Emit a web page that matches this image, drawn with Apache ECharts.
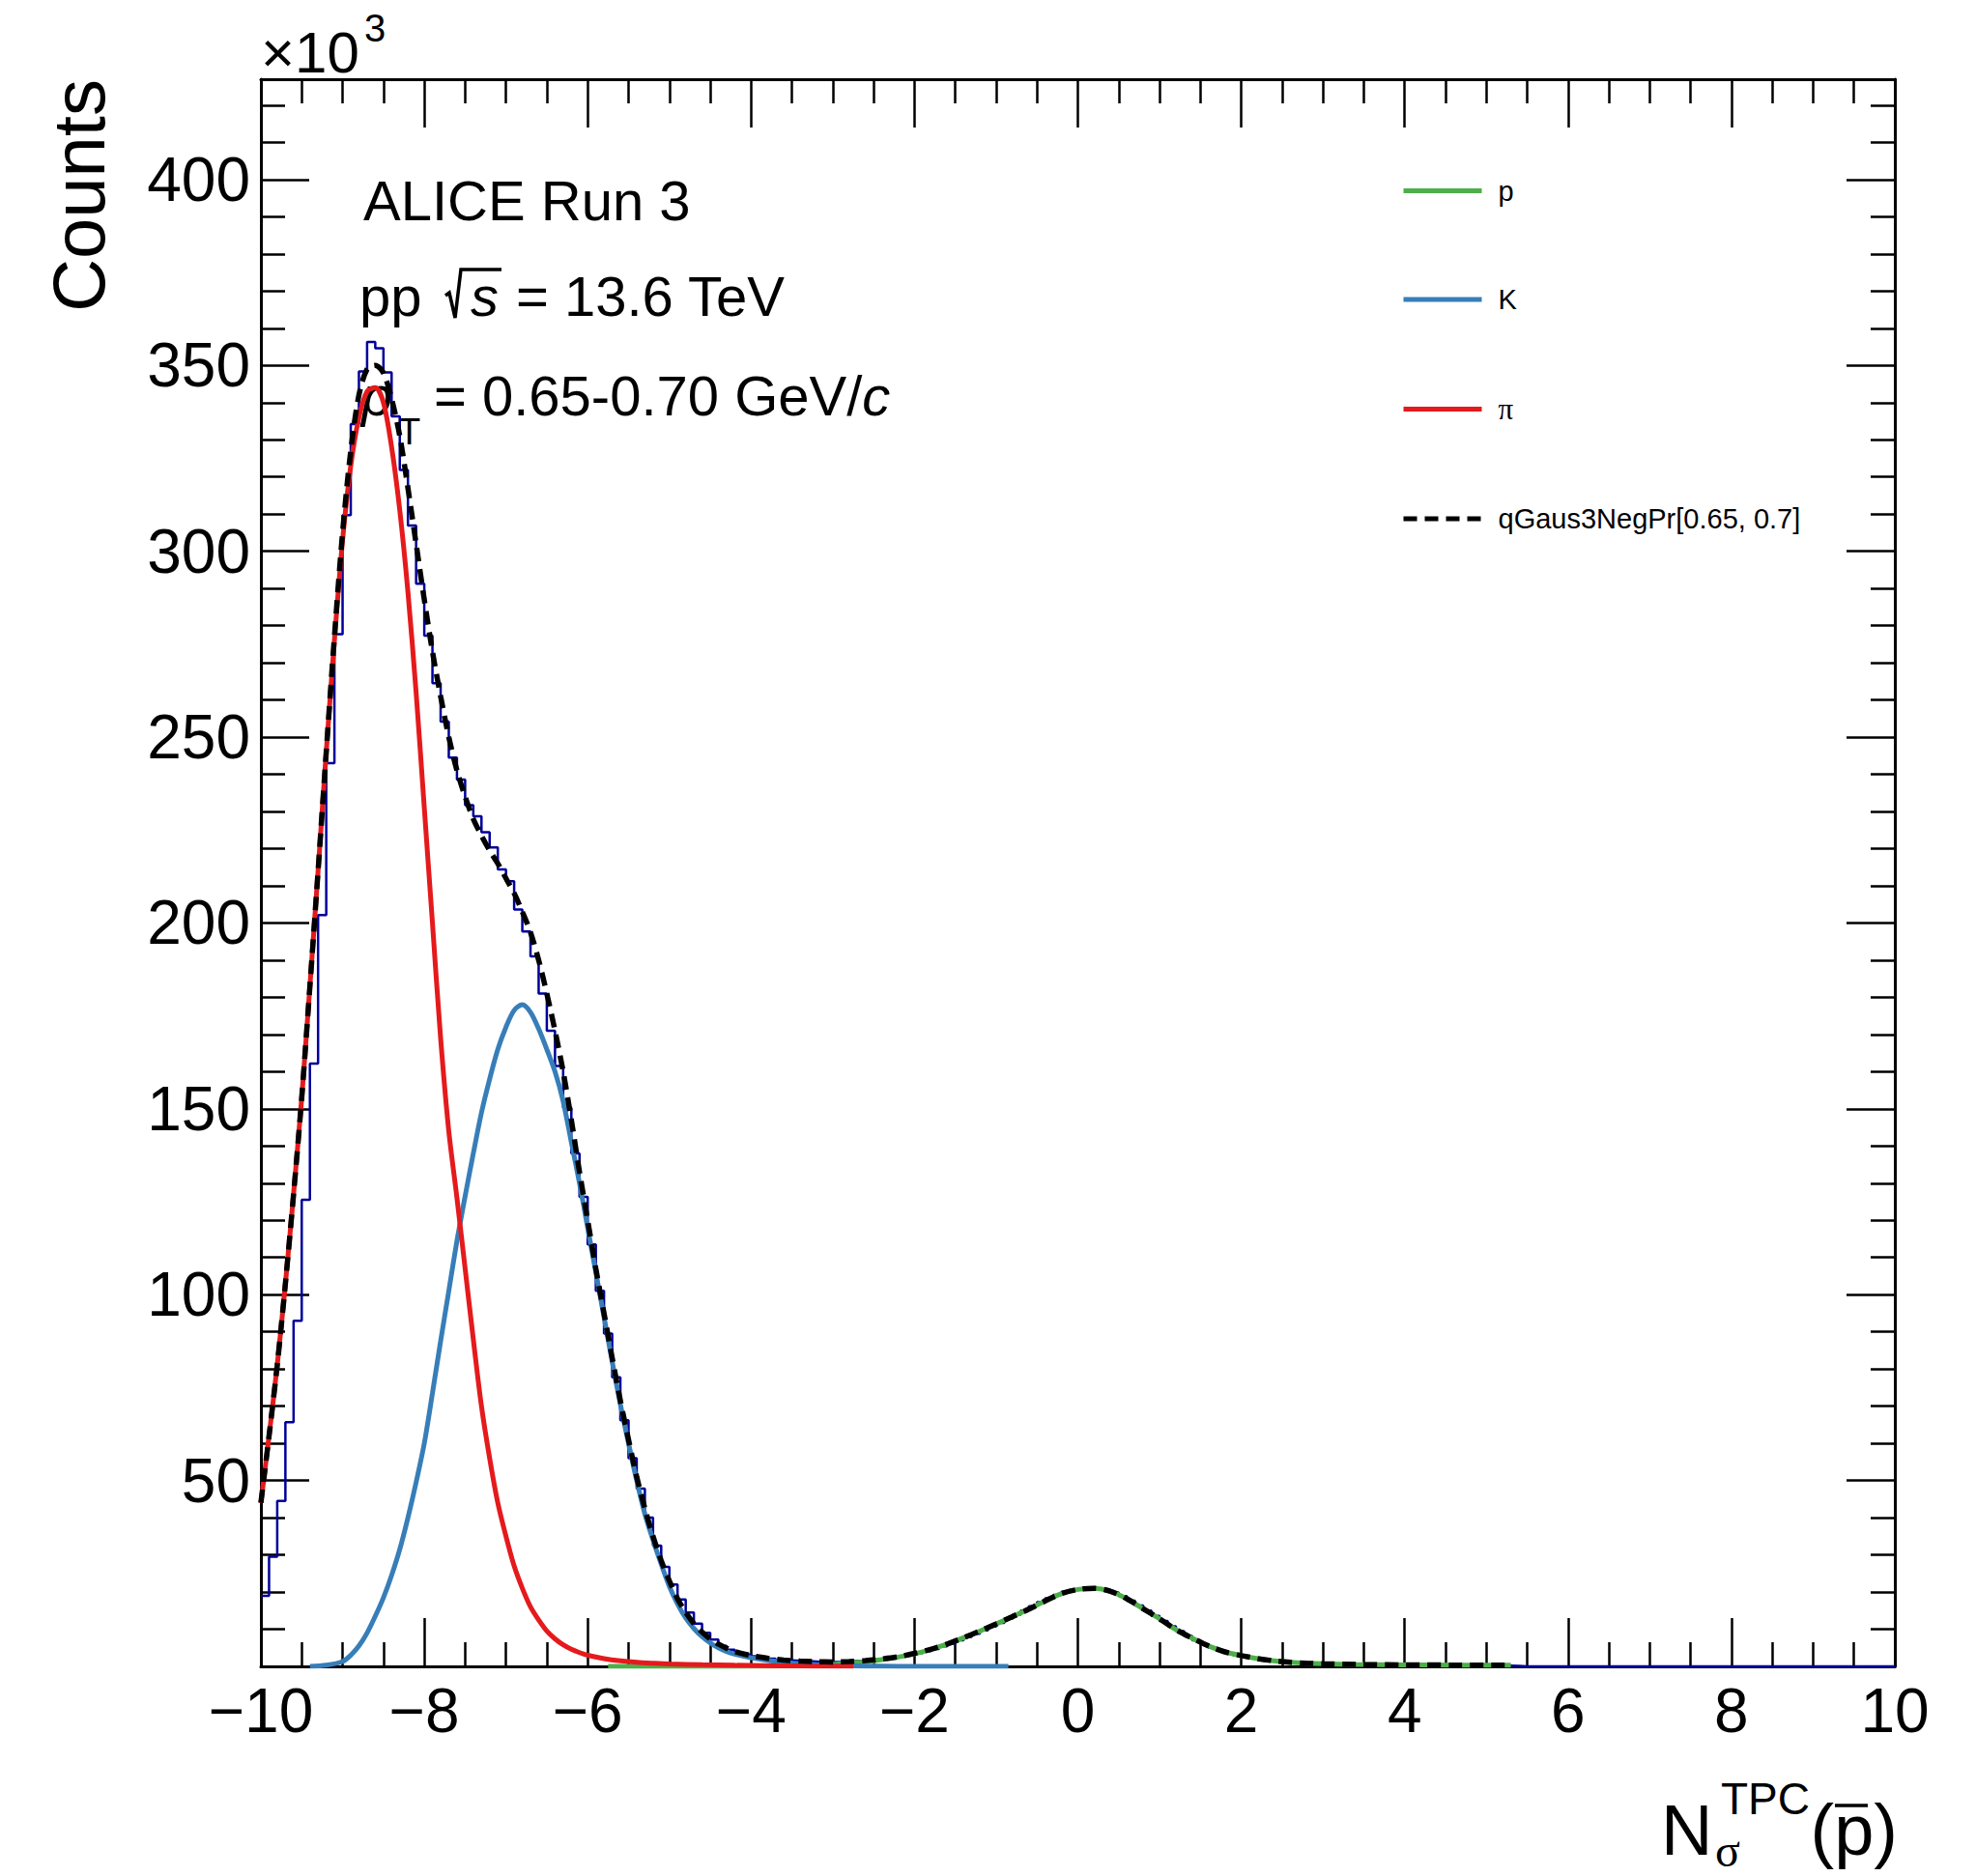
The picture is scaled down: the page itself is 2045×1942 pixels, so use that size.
<!DOCTYPE html>
<html>
<head>
<meta charset="utf-8">
<script src="https://cdn.jsdelivr.net/npm/echarts@6/dist/echarts.min.js"></script>
<style>
html,body{margin:0;padding:0;background:#ffffff;}
#chart{width:2045px;height:1942px;}
</style>
</head>
<body>
<div id="chart"></div>
<script>
// ---------------- DATA (counts in units of 10^3) ----------------
// histogram: 200 bins of width 0.1 from -10 to 10
const histRange = [-10, 10];
const histCounts = [
  19, 29.5, 44.5, 65.7, 93, 125.5, 162.2, 202.1, 243, 277.7,
  309.7, 334.2, 348.4, 356.3, 354.6, 348.1, 336.3, 321.9, 306.9, 291.3,
  277.3, 264.5, 254.2, 244.5, 238.6, 231.7, 228.7, 224.4, 220.3, 214.4,
  211.2, 203.6, 197.7, 191, 181, 171, 161.5, 150.3, 138, 126.3,
  113.5, 101, 89.5, 77.8, 66.2, 56, 47.8, 40, 32.5, 26.8,
  22, 18, 14.5, 11.5, 9, 7.2, 5.5, 4.5, 3.8, 3.2,
  2.7, 2.4, 2.1, 1.8, 1.6, 1.5, 1.4, 1.3, 1.2, 1.2,
  1.2, 1.3, 1.4, 1.5, 1.7, 1.9, 2.1, 2.4, 2.7, 3.1,
  3.6, 4.1, 4.7, 5.4, 6.1, 7.0, 7.9, 8.8, 9.7, 10.7,
  11.7, 12.8, 13.9, 15.0, 16.2, 17.3, 18.3, 19.2, 20.0, 20.6,
  21.0, 21.2, 21.0, 20.6, 19.9, 18.9, 17.7, 16.4, 15.0, 13.6,
  12.2, 10.8, 9.5, 8.2, 7.0, 5.9, 5.0, 4.2, 3.6, 3.0,
  2.6, 2.2, 1.9, 1.6, 1.4, 1.2, 1.05, 0.95, 0.85, 0.75,
  0.7, 0.65, 0.6, 0.55, 0.5, 0.5, 0.45, 0.45, 0.4, 0.4,
  0.4, 0.35, 0.35, 0.35, 0.3, 0.3, 0.3, 0.3, 0.25, 0.25,
  0.25, 0.2, 0.2, 0.1, 0, 0, 0, 0, 0, 0,
  0, 0, 0, 0, 0, 0, 0, 0, 0, 0,
  0, 0, 0, 0, 0, 0, 0, 0, 0, 0,
  0, 0, 0, 0, 0, 0, 0, 0, 0, 0,
  0, 0, 0, 0, 0, 0, 0, 0, 0, 0
];

// pion component (red)
const pionCurve = [
  [-10.0,44],[-9.9,62],[-9.8,81],[-9.7,103],[-9.6,127],[-9.5,153],[-9.4,183],[-9.3,214],[-9.2,246],[-9.1,276],
  [-9.0,303],[-8.9,323],[-8.8,336],[-8.7,343],[-8.6,344],[-8.5,340],[-8.4,328],[-8.3,311],[-8.2,289],[-8.1,262],
  [-8.0,231],[-7.9,200],[-7.8,169],[-7.7,144],[-7.6,126],[-7.5,107],[-7.4,88],[-7.3,70],[-7.2,56],[-7.1,44],
  [-7.0,35],[-6.9,27],[-6.8,21],[-6.7,16],[-6.6,12.5],[-6.5,9.5],[-6.4,7.4],[-6.3,5.8],[-6.2,4.6],[-6.1,3.7],
  [-6.0,3.0],[-5.8,2.1],[-5.6,1.5],[-5.4,1.1],[-5.2,0.85],[-5.0,0.65],[-4.6,0.45],[-4.2,0.3],[-3.8,0.2],[-3.4,0.12],
  [-3.0,0.07],[-2.75,0.05]
];

// kaon component (blue)
const kaonCurve = [
  [-9.4,0],[-9.2,0.3],[-9.0,1.3],[-8.9,3],[-8.8,5.5],[-8.7,9],[-8.6,13.5],[-8.5,18.5],[-8.4,24.5],[-8.3,31.5],
  [-8.2,40],[-8.1,49.5],[-8.0,60],[-7.9,73.5],[-7.8,87.5],[-7.7,101],[-7.6,114.5],[-7.5,126.5],[-7.4,138],[-7.3,149],
  [-7.2,158],[-7.1,166],[-7.0,172],[-6.9,176.5],[-6.8,178],[-6.7,176],[-6.6,171.5],[-6.5,166],[-6.4,160],[-6.3,152],
  [-6.2,141],[-6.1,130],[-6.0,118],[-5.9,106],[-5.8,94],[-5.7,82],[-5.6,70.5],[-5.5,60],[-5.4,50],[-5.3,41],
  [-5.2,34],[-5.1,27.5],[-5.0,21.5],[-4.9,16.8],[-4.8,13],[-4.7,10.2],[-4.6,8],[-4.5,6.3],[-4.4,5],[-4.3,4],
  [-4.2,3.3],[-4.0,2.3],[-3.8,1.6],[-3.6,1.1],[-3.4,0.7],[-3.2,0.45],[-3.0,0.28],[-2.8,0.15],[-2.6,0.08],[-2.2,0.03],
  [-1.6,0.01],[-0.85,0]
];

// proton component (green)
const protonCurve = [
  [-5.75,0],[-5.0,0],[-4.4,0.02],[-4.0,0.05],[-3.6,0.15],[-3.2,0.35],[-3.0,0.55],[-2.8,0.85],[-2.6,1.25],[-2.4,1.8],
  [-2.2,2.5],[-2.0,3.4],[-1.8,4.6],[-1.6,6.0],[-1.4,7.7],[-1.2,9.5],[-1.0,11.4],[-0.8,13.4],[-0.6,15.4],[-0.4,17.6],
  [-0.2,19.6],[0.0,20.7],[0.2,21.0],[0.4,20.2],[0.6,18.2],[0.8,15.5],[1.0,12.8],[1.2,9.9],[1.4,7.6],[1.6,5.5],
  [1.8,3.9],[2.0,2.9],[2.2,2.1],[2.4,1.5],[2.6,1.1],[2.8,0.85],[3.0,0.7],[3.4,0.5],[4.0,0.4],[4.6,0.35],[5.3,0.3]
];

// total fit (black dashed)
const totalCurve = [
  [-10.0,44],[-9.9,62],[-9.8,81],[-9.7,103],[-9.6,127],[-9.5,153],[-9.4,183],[-9.3,214],[-9.2,246],[-9.1,277],
  [-9.0,305],[-8.9,327],[-8.8,342],[-8.7,349],[-8.6,350],[-8.5,348],[-8.4,341],[-8.3,331],[-8.2,317],[-8.1,302],
  [-8.0,287],[-7.9,273],[-7.8,261],[-7.7,250],[-7.6,241],[-7.5,234],[-7.4,228],[-7.3,223.5],[-7.2,219.5],[-7.1,216],
  [-7.0,212],[-6.9,208],[-6.8,203],[-6.7,197.5],[-6.6,190],[-6.5,181],[-6.4,171],[-6.3,160],[-6.2,147],[-6.1,133],
  [-6.0,120],[-5.9,107],[-5.8,95],[-5.7,83],[-5.6,71.5],[-5.5,61],[-5.4,51],[-5.3,42.5],[-5.2,35],[-5.1,28.5],
  [-5.0,23],[-4.9,18.2],[-4.8,14.5],[-4.7,11.5],[-4.6,9.2],[-4.5,7.4],[-4.4,6.0],[-4.3,4.9],[-4.2,4.0],[-4.0,2.9],
  [-3.8,2.2],[-3.6,1.7],[-3.4,1.4],[-3.2,1.25],[-3.0,1.2],[-2.8,1.3],[-2.6,1.55],[-2.4,2.0],[-2.2,2.6],[-2.0,3.5],
  [-1.8,4.6],[-1.6,6.0],[-1.4,7.7],[-1.2,9.5],[-1.0,11.4],[-0.8,13.4],[-0.6,15.4],[-0.4,17.6],[-0.2,19.6],[0.0,20.7],
  [0.2,21.0],[0.4,20.2],[0.6,18.2],[0.8,15.5],[1.0,12.8],[1.2,9.9],[1.4,7.6],[1.6,5.5],[1.8,3.9],[2.0,2.9],
  [2.2,2.1],[2.4,1.5],[2.6,1.1],[2.8,0.85],[3.0,0.7],[3.4,0.5],[4.0,0.4],[4.6,0.35],[5.3,0.3]
];

// axis ticks / labels
const xRange = [-10, 10];
const yRange = [0, 427];
const yLabelValues = [50, 100, 150, 200, 250, 300, 350, 400];
const yMajorTicks = [0, 50, 100, 150, 200, 250, 300, 350, 400];
const yMinorTicks = [10,20,30,40,60,70,80,90,110,120,130,140,160,170,180,190,210,220,230,240,
                     260,270,280,290,310,320,330,340,360,370,380,390,410,420];
const legendNames = ['p', 'K', '\u03c0', 'qGaus3NegPr[0.65, 0.7]'];

// ---------------- CHART ----------------
const FONT = '"Liberation Sans", Arial, Helvetica, sans-serif';
const SERIF = '"Liberation Serif", "DejaVu Serif", serif';
const binWidth = (histRange[1] - histRange[0]) / histCounts.length;
const histData = histCounts.map((v, i) => [histRange[0] + i * binWidth, v]);
histData.push([histRange[1], histCounts[histCounts.length - 1]]);

const tickLine = { color: '#000', width: 2.5 };
function xAxisDef(pos, showLabel) {
  return {
    type: 'value', position: pos, min: xRange[0], max: xRange[1], interval: 2,
    axisLine: { show: true, onZero: false, lineStyle: { color: '#000', width: 3 } },
    axisTick: { show: true, inside: true, length: 50, lineStyle: tickLine },
    minorTick: { show: true, splitNumber: 4, length: 25, lineStyle: tickLine },
    splitLine: { show: false }, minorSplitLine: { show: false },
    axisLabel: {
      show: showLabel, fontSize: 64, color: '#000', fontFamily: FONT, margin: 14,
      formatter: v => (v < 0 ? '\u2212' + Math.abs(v) : String(v))
    }
  };
}
function yAxisDef(pos, major, showLabel) {
  return {
    type: 'value', position: pos, min: yRange[0], max: yRange[1],
    axisLine: { show: major, onZero: false, lineStyle: { color: '#000', width: 3 } },
    axisTick: { show: true, inside: true, length: major ? 50 : 25, lineStyle: tickLine,
                customValues: major ? yMajorTicks : yMinorTicks },
    splitLine: { show: false },
    axisLabel: showLabel ? { show: true, fontSize: 64, color: '#000', fontFamily: FONT, margin: 11,
                             customValues: yLabelValues }
                         : { show: false }
  };
}

const chart = echarts.init(document.getElementById('chart'), null, { renderer: 'svg', width: 2045, height: 1942 });
const option = {
  animation: false,
  backgroundColor: '#ffffff',
  textStyle: { fontFamily: FONT },
  grid: { left: 270, right: 84, top: 82, bottom: 217, containLabel: false },
  xAxis: [ xAxisDef('bottom', true), xAxisDef('top', false) ],
  yAxis: [ yAxisDef('left', true, true), yAxisDef('left', false, false),
           yAxisDef('right', true, false), yAxisDef('right', false, false) ],
  legend: {
    orient: 'vertical', left: 1450, top: 183, padding: 0,
    itemWidth: 81, itemHeight: 30, itemGap: 83.5,
    data: legendNames,
    itemStyle: { opacity: 0, borderWidth: 0 },
    lineStyle: { width: 5 },
    formatter: n => (n === '\u03c0' ? '{g|\u03c0}' : n),
    textStyle: { fontSize: 29, color: '#000', fontFamily: FONT, padding: [0, 0, 0, 12],
                 rich: { g: { fontSize: 31, fontFamily: SERIF, color: '#000' } } }
  },
  series: [
    { name: 'data', type: 'line', step: 'end', data: histData, symbol: 'none', z: 2,
      lineStyle: { color: '#000099', width: 2.5 }, itemStyle: { color: '#000099' } },
    { name: 'p', type: 'line', data: protonCurve, symbol: 'none', smooth: 0.3, z: 3,
      lineStyle: { color: '#4daf4a', width: 5 }, itemStyle: { color: '#4daf4a' } },
    { name: 'K', type: 'line', data: kaonCurve, symbol: 'none', smooth: 0.3, z: 4,
      lineStyle: { color: '#377eb8', width: 5 }, itemStyle: { color: '#377eb8' } },
    { name: '\u03c0', type: 'line', data: pionCurve, symbol: 'none', smooth: 0.3, z: 5,
      lineStyle: { color: '#e41a1c', width: 5 }, itemStyle: { color: '#e41a1c' } },
    { name: 'qGaus3NegPr[0.65, 0.7]', type: 'line', data: totalCurve, symbol: 'none', smooth: 0.3, z: 6,
      lineStyle: { color: '#000000', width: 5.5, type: [14, 8] }, itemStyle: { color: '#000000' } }
  ],
  graphic: [
    // y-axis title
    { type: 'text', x: 81, y: 82, rotation: Math.PI / 2,
      style: { text: 'Counts', font: '76px ' + FONT, fill: '#000', align: 'right', verticalAlign: 'middle' } },
    // x10^3 multiplier
    { type: 'text', x: 270, y: 75 - 0.3465 * 60,
      style: { text: '\u00d710', font: '60px ' + FONT, fill: '#000', align: 'left', verticalAlign: 'middle' } },
    { type: 'text', x: 377, y: 43 - 0.3465 * 40,
      style: { text: '3', font: '40px ' + FONT, fill: '#000', align: 'left', verticalAlign: 'middle' } },
    // annotations
    { type: 'text', x: 376, y: 228 - 0.3465 * 58,
      style: { text: 'ALICE Run 3', font: '58px ' + FONT, fill: '#000', align: 'left', verticalAlign: 'middle' } },
    { type: 'text', x: 372, y: 327 - 0.3465 * 58,
      style: { text: 'pp', font: '58px ' + FONT, fill: '#000', align: 'left', verticalAlign: 'middle' } },
    // square-root sign drawn as strokes (as TLatex does)
    { type: 'polyline', shape: { points: [[461, 306], [465, 303], [471, 329], [477, 279], [519, 279]] },
      style: { stroke: '#000', lineWidth: 3.5, fill: null, lineJoin: 'miter' } },
    { type: 'text', x: 487, y: 327 - 0.3465 * 58,
      style: { text: 's', font: 'italic 58px ' + FONT, fill: '#000', align: 'left', verticalAlign: 'middle' } },
    { type: 'text', x: 534, y: 327 - 0.3465 * 58,
      style: { text: '= 13.6 TeV', font: '58px ' + FONT, fill: '#000', align: 'left', verticalAlign: 'middle' } },
    { type: 'text', x: 374, y: 430 - 0.3465 * 58,
      style: { text: 'p', font: 'italic 58px ' + FONT, fill: '#000', align: 'left', verticalAlign: 'middle' } },
    { type: 'text', x: 412, y: 460 - 0.3465 * 38,
      style: { text: 'T', font: '38px ' + FONT, fill: '#000', align: 'left', verticalAlign: 'middle' } },
    { type: 'text', x: 449, y: 430 - 0.3465 * 58,
      style: { text: '= 0.65-0.70 GeV/{i|c}', font: '58px ' + FONT, fill: '#000', align: 'left', verticalAlign: 'middle',
               rich: { i: { font: 'italic 58px ' + FONT, fill: '#000' } } } },
    // x-axis title  N_sigma^TPC (pbar)
    { type: 'text', x: 1719, y: 1920 - 0.3465 * 74,
      style: { text: 'N', font: '74px ' + FONT, fill: '#000', align: 'left', verticalAlign: 'middle' } },
    { type: 'text', x: 1775, y: 1932 - 0.3465 * 48,
      style: { text: '\u03c3', font: '48px ' + SERIF, fill: '#000', align: 'left', verticalAlign: 'middle' } },
    { type: 'text', x: 1781, y: 1878 - 0.3465 * 46,
      style: { text: 'TPC', font: '46px ' + FONT, fill: '#000', align: 'left', verticalAlign: 'middle' } },
    { type: 'text', x: 1964, y: 1920 - 0.3465 * 74,
      style: { text: '(p)', font: '74px ' + FONT, fill: '#000', align: 'right', verticalAlign: 'middle' } },
    { type: 'line', shape: { x1: 1899, y1: 1869, x2: 1933, y2: 1869 }, style: { stroke: '#000', lineWidth: 3.5 } }
  ]
};
chart.setOption(option);
</script>
</body>
</html>
